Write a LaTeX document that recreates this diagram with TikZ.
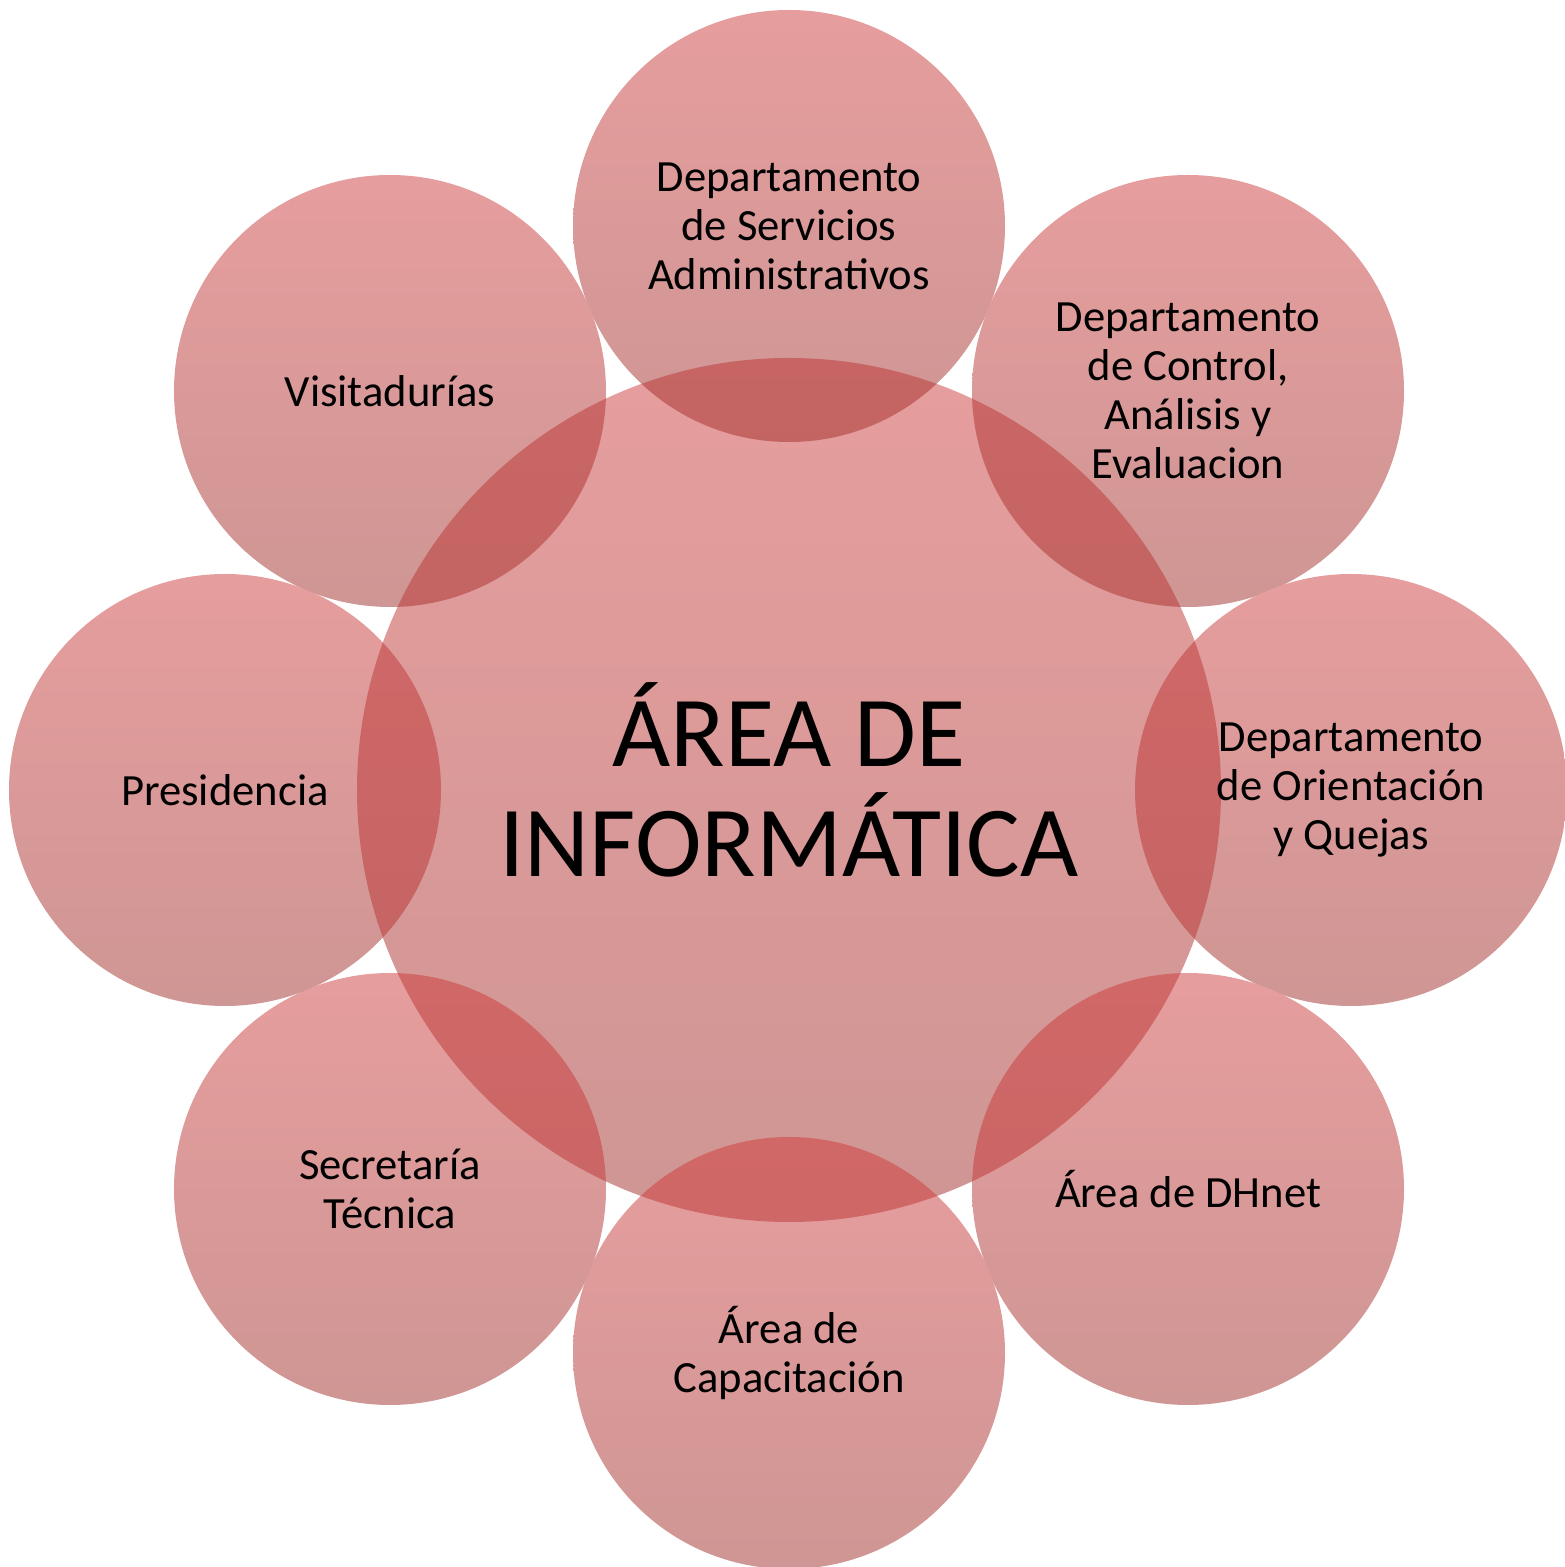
\documentclass[tikz,border=0pt]{standalone}
\usepackage{fontspec}
\setmainfont{Carlito}
\usetikzlibrary{backgrounds}
\definecolor{disctop}{RGB}{230,157,157}
\definecolor{discbottom}{RGB}{206,150,148}
\definecolor{lensred}{RGB}{182,32,32}

\begin{document}
\begin{tikzpicture}[
        unit/.style={circle, minimum size=4.32cm, inner sep=0pt, align=center, font=\fontsize{12.7}{13.95}\selectfont},
        hub/.style={circle, minimum size=8.64cm, inner sep=0pt},
        disc/.style={top color=disctop, bottom color=discbottom, draw=none},
        lens/.style={fill=lensred, fill opacity=0.42}
    ]
        \useasboundingbox (0,0) rectangle (15.65,15.67);

        % Central area
        \node[hub] (area) at (7.89,7.77) {};
        \node[align=center, font=\fontsize{28.6}{31.2}\selectfont] (areatext) at (7.89,7.87) {ÁREA DE\\INFORMÁTICA};

        % Surrounding units
        \node[unit] (admin) at (7.89,13.41) {Departamento\\de Servicios\\Administrativos};
        \node[unit] (control) at (11.88,11.76) {Departamento\\de Control,\\Análisis y\\Evaluacion};
        \node[unit] (quejas) at (13.51,7.77) {Departamento\\de Orientación\\y Quejas};
        \node[unit] (dhnet) at (11.88,3.78) {Área de DHnet};
        \node[unit] (capac) at (7.89,2.14) {Área de\\Capacitación};
        \node[unit] (secre) at (3.90,3.78) {Secretaría\\Técnica};
        \node[unit] (presi) at (2.25,7.77) {Presidencia};
        \node[unit] (visit) at (3.90,11.76) {Visitadurías};

        % Discs and overlaps
        \begin{scope}[on background layer]
            \shade[disc] (area.center) circle (4.32);
            \foreach \n in {admin,control,quejas,dhnet,capac,secre,presi,visit}
                \shade[disc] (\n.center) circle (2.16);
            \foreach \n in {admin,control,quejas,dhnet,capac,secre,presi,visit} {
                \begin{scope}
                    \clip (\n.center) circle (2.16);
                    \fill[lens] (area.center) circle (4.32);
                \end{scope}
            }
        \end{scope}
    \end{tikzpicture}
\end{document}
